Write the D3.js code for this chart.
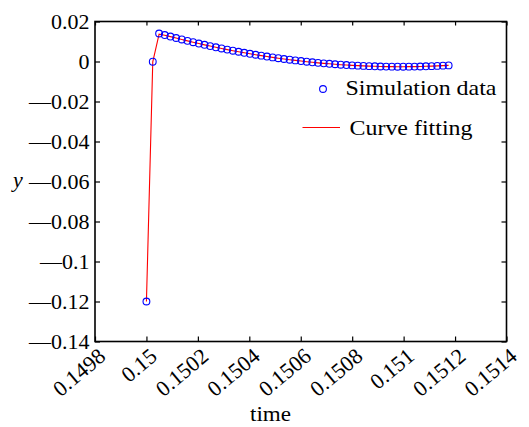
<!DOCTYPE html>
<html><head><meta charset="utf-8">
<script src="https://cdn.jsdelivr.net/npm/d3@7"></script>
<style>
html,body{margin:0;padding:0;background:#fff;}
svg{display:block;}
text{font-family:"Liberation Serif","Times New Roman",serif;fill:#000;}
</style></head>
<body>
<svg id="chart" width="529" height="427"></svg>
<script>
// Simulation data: time and y
const simTime = [0.1500000, 0.1500246, 0.1500492, 0.1500712, 0.1500933, 0.1501154, 0.1501375, 0.1501595,
  0.1501816, 0.1502037, 0.1502258, 0.1502478, 0.1502699, 0.1502920, 0.1503141, 0.1503361, 0.1503582,
  0.1503803, 0.1504024, 0.1504244, 0.1504465, 0.1504686, 0.1504907, 0.1505127, 0.1505348, 0.1505569,
  0.1505790, 0.1506010, 0.1506231, 0.1506452, 0.1506672, 0.1506893, 0.1507114, 0.1507335, 0.1507555,
  0.1507776, 0.1507997, 0.1508218, 0.1508438, 0.1508659, 0.1508880, 0.1509101, 0.1509321, 0.1509542,
  0.1509763, 0.1509984, 0.1510204, 0.1510425, 0.1510646, 0.1510867, 0.1511087, 0.1511308, 0.1511529,
  0.1511750];
const simY = [-0.1200, -0.0001, 0.0140, 0.01323, 0.01247, 0.01174, 0.01102, 0.01032, 0.00964, 0.00898,
  0.00834, 0.00771, 0.00711, 0.00652, 0.00595, 0.00540, 0.00487, 0.00435, 0.00385, 0.00338, 0.00292,
  0.00248, 0.00205, 0.00165, 0.00126, 0.00090, 0.00055, 0.00022, -0.00010, -0.00039, -0.00067, -0.00092,
  -0.00116, -0.00138, -0.00159, -0.00177, -0.00194, -0.00208, -0.00221, -0.00232, -0.00241, -0.00249,
  -0.00254, -0.00258, -0.00260, -0.00260, -0.00258, -0.00254, -0.00249, -0.00241, -0.00232, -0.00221,
  -0.00208, -0.00194];
// Curve fitting values at the same times
const fitY = [-0.1200, -0.0002, 0.0137, 0.01315, 0.01244, 0.01172, 0.01101, 0.01031, 0.00963, 0.00897,
  0.00833, 0.00771, 0.00711, 0.00652, 0.00595, 0.00540, 0.00487, 0.00435, 0.00385, 0.00338, 0.00292,
  0.00248, 0.00205, 0.00165, 0.00126, 0.00090, 0.00055, 0.00022, -0.00010, -0.00039, -0.00067, -0.00092,
  -0.00116, -0.00138, -0.00159, -0.00177, -0.00194, -0.00208, -0.00221, -0.00232, -0.00241, -0.00249,
  -0.00254, -0.00258, -0.00260, -0.00260, -0.00258, -0.00254, -0.00249, -0.00241, -0.00232, -0.00221,
  -0.00208, -0.00196];
const xTicks = [0.1498, 0.15, 0.1502, 0.1504, 0.1506, 0.1508, 0.151, 0.1512, 0.1514];
const xTickLabels = ["0.1498", "0.15", "0.1502", "0.1504", "0.1506", "0.1508", "0.151", "0.1512", "0.1514"];
const yTicks = [0.02, 0, -0.02, -0.04, -0.06, -0.08, -0.1, -0.12, -0.14];
const yTickLabels = ["0.02", "0", "\u20140.02", "\u20140.04", "\u20140.06", "\u20140.08", "\u20140.1", "\u20140.12", "\u20140.14"];
const legendLabels = ["Simulation data", "Curve fitting"];

const svg = d3.select("#chart");
const L = 95, R = 506.5, T = 21.5, B = 341.5;
const x = d3.scaleLinear().domain([0.1498, 0.1514]).range([L, R]);
const y = d3.scaleLinear().domain([-0.14, 0.02]).range([B, T]);
const FS = 22;

// fit line
const line = d3.line().x((d, i) => x(simTime[i])).y(d => y(d));
svg.append("path").datum(fitY).attr("d", line)
  .attr("fill", "none").attr("stroke", "#ff0000").attr("stroke-width", 1.1);

// simulation markers
svg.append("g").selectAll("circle").data(simY).join("circle")
  .attr("cx", (d, i) => x(simTime[i])).attr("cy", d => y(d)).attr("r", 3.4)
  .attr("fill", "none").attr("stroke", "#0000ff").attr("stroke-width", 1.1);

// axes with inward ticks
const axB = d3.axisBottom(x).tickValues(xTicks).tickSize(-5).tickFormat("");
const axT = d3.axisTop(x).tickValues(xTicks).tickSize(-4).tickFormat("");
const axLft = d3.axisLeft(y).tickValues(yTicks).tickSize(-5).tickFormat("");
const axRt = d3.axisRight(y).tickValues(yTicks).tickSize(-5).tickFormat("");
[[axB, `translate(0,${B})`], [axT, `translate(0,${T})`], [axLft, `translate(${L},0)`], [axRt, `translate(${R},0)`]]
  .forEach(([a, tr]) => {
    const g = svg.append("g").attr("transform", tr).call(a);
    g.select(".domain").remove();
    g.selectAll("line").attr("stroke", "#000").attr("stroke-width", 1.2);
  });
svg.append("rect").attr("x", L).attr("y", T).attr("width", R - L).attr("height", B - T)
  .attr("fill", "none").attr("stroke", "#000").attr("stroke-width", 1.6);

// y tick labels
svg.append("g").selectAll("text").data(yTicks).join("text")
  .attr("x", 89.5).attr("y", d => y(d)).attr("dy", "0.33em")
  .attr("text-anchor", "end").attr("font-size", FS)
  .text((d, i) => yTickLabels[i]);

// x tick labels rotated
svg.append("g").selectAll("text").data(xTicks).join("text")
  .attr("transform", d => `translate(${x(d) + 12},${B + 17}) rotate(-40)`)
  .attr("text-anchor", "end").attr("font-size", FS)
  .text((d, i) => xTickLabels[i]);

// axis titles
svg.append("text").attr("x", 250).attr("y", 421)
  .attr("font-size", FS).attr("textLength", 41).attr("lengthAdjust", "spacingAndGlyphs").text("time");
svg.append("text").attr("x", 18).attr("y", 187).attr("text-anchor", "middle")
  .attr("font-size", FS).attr("font-style", "italic").text("y");

// legend
svg.append("circle").attr("cx", 323).attr("cy", 89).attr("r", 3.4)
  .attr("fill", "none").attr("stroke", "#0000ff").attr("stroke-width", 1.1);
svg.append("text").attr("x", 345.5).attr("y", 95).attr("font-size", FS)
  .attr("textLength", 151).attr("lengthAdjust", "spacingAndGlyphs").text(legendLabels[0]);
svg.append("line").attr("x1", 302.5).attr("x2", 340).attr("y1", 127.5).attr("y2", 127.5)
  .attr("stroke", "#ff0000").attr("stroke-width", 1.1);
svg.append("text").attr("x", 349.5).attr("y", 134.5).attr("font-size", FS)
  .attr("textLength", 123).attr("lengthAdjust", "spacingAndGlyphs").text(legendLabels[1]);
</script>
</body></html>
